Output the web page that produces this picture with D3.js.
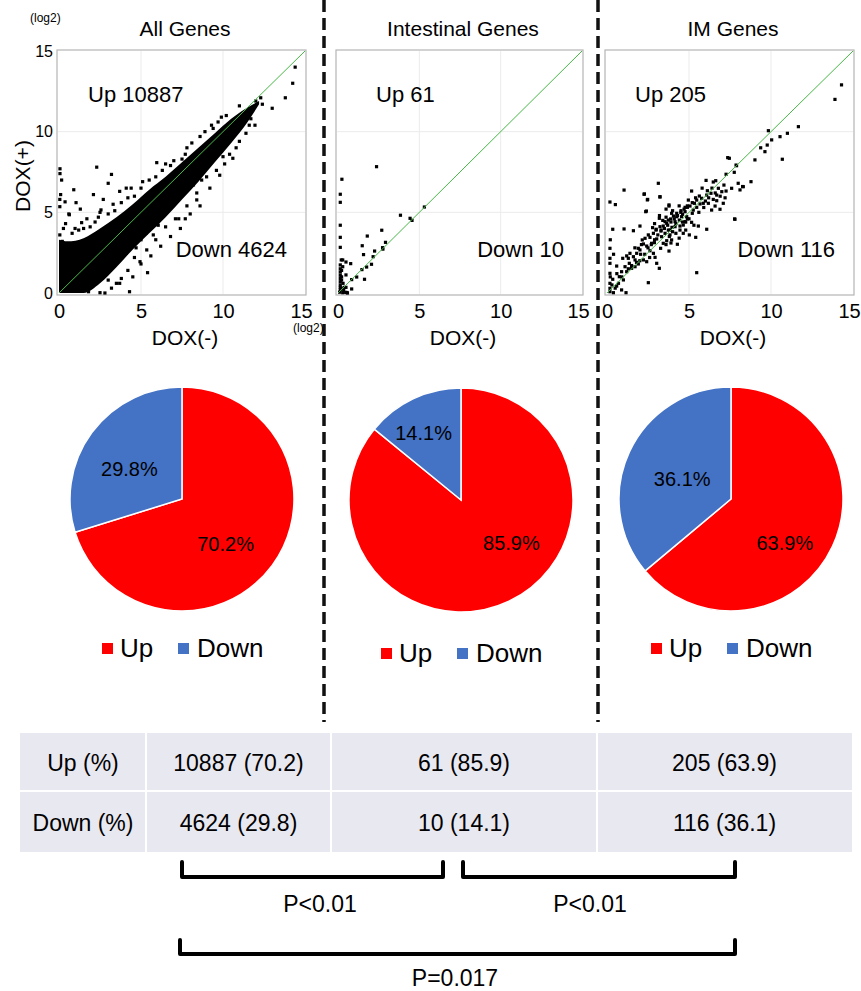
<!DOCTYPE html>
<html>
<head>
<meta charset="utf-8">
<script src="https://cdn.jsdelivr.net/npm/d3@7"></script>
<style>
  body { margin: 0; background: #fff; }
  svg { font-family: Arial, "Liberation Sans", sans-serif; }
</style>
</head>
<body>
<div id="chart"></div>
<script>
// ---- data ----
const panelTitles = ["All Genes", "Intestinal Genes", "IM Genes"]
const upCounts = [10887, 61, 205]
const downCounts = [4624, 10, 116]
const upPct = [70.2, 85.9, 63.9]
const downPct = [29.8, 14.1, 36.1]
const axisTicks = [0, 5, 10, 15]
const rowLabels = ["Up (%)", "Down (%)"]
const pLabels = ["P<0.01", "P<0.01", "P=0.017"]

// dense cloud of "All Genes" drawn as an envelope (log2 DOX(-) -> DOX(+))
const bandX     = [0,   0.5, 1.5, 2.5, 3.5, 4.5, 5.5, 6.5, 7.5, 8.5, 9.5, 10.5, 11.5, 12.2]
const bandUpper = [3.3, 3.2, 3.4, 4.0, 4.7, 5.5, 6.4, 7.2, 8.1, 9.0, 9.9,  10.8, 11.5, 11.9]
const bandLower = [0,   0,   0,   0.6, 1.6, 2.7, 3.7, 4.7, 5.8, 6.9, 8.1,  9.3,  10.6, 11.7]

const allPoints = [[0.06,7.7],[0.06,7.4],[0.16,7.0],[2.3,7.8],[3.2,7.35],[3.0,6.8],[0.9,6.4],[3.7,6.3],[4.1,6.5],
  [0.1,6.1],[2.1,6.1],[2.7,5.8],[0.05,5.8],[0.05,5.35],[0.37,5.65],[1.04,5.6],[2.56,5.15],[0.63,4.85],[1.38,4.36],
  [1.9,4.1],[0.98,4.0],[0.27,4.0],[0.05,3.6],[0.2,3.2],[5.96,8.08],[7.3,4.6],[7.7,4.6],[6.05,4.2],[5.75,3.6],
  [5.35,2.67],[5.4,1.26],[4.5,1.0],[3.7,0.6],[4.3,0.08],[2.5,0.02],[1.8,0.08],[8.4,5.77],[4.94,1.94],[4.1,2.46],
  [6.0,4.6],[14.4,14.0],[14.25,13.0],[13.8,12.1],[13.0,11.45],[12.4,11.7],[12.0,11.9],[11.95,10.4],[11.6,10.4],
  [9.7,10.6],[9.4,10.2],[10.6,8.35],[10.0,8.45],[9.6,7.6],[8.7,7.0],[8.2,6.7],[5.1,6.9],[4.4,6.5],[6.5,8.0],
  [7.7,8.6],[7.5,8.3],[3.5,0.6],[4.7,2.8],[5.0,3.3],[5.3,3.7],[1.3,5.2],[0.6,4.9],[3.4,5.1],[2.5,5.0],
  [1.5,4.0],[2.2,4.4],[3.0,4.9],[3.8,5.6],[4.6,6.0],[5.5,7.0],[6.3,7.6],[7.0,8.2],[7.8,9.0],[8.6,9.7],[9.3,10.4],
  [10.2,11.0],[11.0,11.6],[2.8,0.0],[3.2,0.3],[3.8,0.9],[4.2,1.4],[5.0,1.8],[5.6,2.3],[6.2,2.9],[6.8,3.5],[7.4,4.0],
  [8.0,4.9],[8.6,5.4],[9.2,6.5],[9.8,7.3],[10.4,8.6],[11.0,9.4],[11.4,9.9],
  [0.8,3.7],[1.2,3.9],[0.4,4.3],[1.7,4.6],[2.4,4.7],[3.3,5.5],[4.2,5.9],[5.0,6.5],[5.9,7.2],[6.8,7.9],[8.1,9.3],
  [8.9,10.0],[9.9,10.9],[3.0,0.8],[4.6,2.2],[5.9,3.3],[6.5,4.1],[7.1,4.6],[7.8,5.4],[8.4,6.2],[9.0,7.2],[10.1,8.0],
  [10.8,9.0],[11.7,10.8],[12.3,12.1]]

const intestinalPoints = [[2.37,7.83],[0.24,7.05],[0.14,6.12],[0.14,5.62],[5.31,5.33],[3.84,4.82],[4.43,4.63],
  [4.55,4.5],[0.14,4.2],[2.69,3.89],[1.8,3.53],[0.14,3.45],[2.92,3.14],[1.49,2.93],[0.14,2.83],[2.74,2.81],
  [2.76,2.72],[2.25,2.6],[1.57,2.38],[2.16,2.25],[0.2,2.05],[0.49,1.92],[0.78,1.82],[2.06,1.78],[1.76,1.61],
  [1.47,1.45],[1.15,0.99],[1.63,0.85],[0.84,0.83],[0.14,1.74],[0.14,1.5],[0.14,1.3],[0.14,1.1],[0.14,0.9],
  [0.14,0.7],[0.14,0.5],[0.14,0.35],[0.14,0.2],[0.29,1.63],[0.31,0.6],[0.84,0.25],[0.47,0.04],[0.55,0.03],
  [0.39,0.35],[0.2,0.3],[0.29,2.05],[0.49,1.12],[0.49,0.35],[0.29,0.02],[0.58,0.0],[0.22,1.4],[0.22,1.0],
  [0.22,0.8],[0.1,0.05],[0.35,0.15]]

const imPoints = [[7.36,8.39],[7.46,8.35],[7.87,7.93],[7.26,7.36],[6.04,6.98],[6.48,6.88],[6.63,6.96],[3.13,6.8],
  [8.0,6.8],[8.27,6.6],[7.6,6.49],[1.04,6.38],[5.16,6.32],[7.26,6.32],[6.34,6.18],[6.08,6.07],[2.28,6.14],[6.69,6.07],
  [5.63,6.01],[3.23,5.95],[2.48,5.8],[6.48,5.8],[4.96,5.76],[0.18,5.64],[0.51,5.48],[6.18,5.56],[5.87,5.56],
  [5.33,5.56],[5.06,5.39],[3.78,5.39],[4.9,5.31],[5.47,5.31],[6.59,5.39],[6.89,5.19],[6.38,5.14],[2.4,5.08],
  [4.51,5.1],[4.76,5.04],[4.25,4.94],[5.2,4.94],[4.05,4.77],[4.55,4.73],[3.19,4.63],[3.88,4.59],[4.9,4.59],
  [4.41,4.52],[7.78,4.59],[4.15,4.42],[3.64,4.32],[5.16,4.38],[4.65,4.21],[3.43,4.15],[3.96,4.07],[5.57,4.15],
  [0.35,3.95],[1.04,3.97],[1.61,3.86],[2.01,4.15],[2.78,4.05],[3.29,3.84],[4.45,3.9],[4.2,3.7],[6.08,3.95],
  [5.02,3.6],[3.84,3.6],[3.33,3.49],[3.03,3.35],[2.62,3.45],[2.15,3.29],[5.41,3.45],[3.64,3.24],[4.29,3.02],
  [2.89,3.12],[2.42,2.91],[1.91,2.77],[3.27,2.77],[0.18,2.77],[1.4,2.46],[2.62,2.62],[3.78,2.6],[2.05,2.4],
  [2.93,2.21],[0.96,2.15],[1.71,2.05],[2.42,1.94],[0.18,2.15],[0.18,1.84],[0.59,1.67],[1.36,1.84],[1.91,1.8],
  [3.03,1.84],[3.19,1.53],[1.5,1.53],[1.2,1.32],[0.89,1.32],[5.47,1.26],[0.18,1.22],[2.52,0.64],[0.75,1.01],
  [0.35,0.85],[1.0,0.81],[0.18,0.6],[0.59,0.43],[0.18,0.29],[0.89,0.19],[1.16,0.02],[0.39,0.02],[0.18,0.08],
  [3.94,4.94],[4.25,4.73],[4.61,4.88],[4.76,5.31],[3.74,4.52],[3.54,4.42],[3.23,4.11],[2.99,3.9],[2.83,3.7],
  [2.52,3.6],[2.32,3.39],[3.84,3.9],[4.15,4.11],[4.86,4.73],[5.26,5.14],[5.67,5.52],[5.47,5.76],[5.77,5.87],
  [6.12,6.34],[6.79,6.49],[7.0,6.28],[7.13,6.69],[6.69,5.72],[7.09,5.56],[4.76,4.42],[4.45,4.15],[3.74,3.9],
  [3.54,3.7],[2.72,3.08],[2.22,3.04],[2.01,2.67],[1.61,2.25],[1.81,2.46],[1.3,2.15],[1.1,1.63],[1.71,1.63],
  [2.22,2.05],[2.83,2.46],[3.43,3.08],[3.94,3.29],[4.65,3.7],
  [14.3,12.9],[13.9,12.0],[11.67,10.31],[11.0,9.9],[10.55,9.69],[9.84,10.06],[10.04,9.49],[9.77,9.17],[9.37,9.0],
  [9.63,8.76],[10.69,8.29],[9.02,8.25],[8.78,6.9],[7.9,7.89],[7.8,4.57],[8.31,6.59],[8.11,6.39],[7.76,7.48],
  [2.26,6.12],[2.46,5.77],[3.23,5.97],[3.78,5.46],[2.36,5.04],
  [3.5,4.0],[3.7,4.2],[3.9,4.4],[4.1,4.6],[4.3,4.8],[4.5,5.0],[4.7,5.2],[4.9,5.4],[3.6,4.7],[4.0,5.1],[4.4,5.4],
  [4.8,4.4],[5.0,4.6],[5.2,5.6],[5.4,5.9],[3.3,3.9],[3.1,3.6],[2.9,3.3],[2.7,3.0],[2.5,2.8],[3.0,3.95],[3.4,4.5],
  [4.6,4.4],[4.2,4.3],[3.8,3.5],[4.0,3.8],[5.6,5.0],[5.9,5.3],[6.2,5.9],[6.4,6.5],[6.6,6.2],[6.9,6.0],[7.2,5.9],
  [5.8,6.5],[6.0,5.7],[2.0,2.0],[1.8,1.9],[1.5,1.7],[1.3,1.5],[0.9,1.0],[0.7,0.6],[0.5,0.3],[2.3,2.4],[2.6,2.2],
  [1.2,2.3],[0.4,2.4],[0.2,3.3],[0.2,1.0],[0.3,0.5],[0.6,1.2],[2.1,3.0],[1.7,2.8],[3.6,3.0],[3.9,3.1],[4.4,3.4],
  [4.8,3.9],[5.3,4.2],[2.9,4.3],[3.2,4.8],[3.6,5.2]]

const scatterPoints = [allPoints, intestinalPoints, imPoints]

// ---- layout ----
const width = 861, height = 991
const panelX = [[59, 305], [338, 582], [607, 853]]
const plotY = [293, 51]
const pieCx = [182, 461, 731]
const pieCy = [499, 500, 499]
const pieR = 112
const legendY = [657, 662, 657]
const labelNudge = [[[-6, 8], [-3, 7]], [[24, -13], [-11, -11]], [[-2, 18], [7, 6]]]
const upLabelDx = [29, 38, 28]
const colEdges = [20, 146, 331, 597, 852]
const rowEdges = [733, 791, 852]
const brackets = [
  {x1: 182, x2: 443, y1: 862, y2: 877, tx: 320, ty: 912},
  {x1: 463, x2: 735, y1: 862, y2: 877, tx: 590, ty: 912},
  {x1: 180, x2: 735, y1: 940, y2: 954, tx: 455, ty: 986}
]
const red = "#ff0000", blue = "#4472c4"

const svg = d3.select("#chart").append("svg")
  .attr("width", width)
  .attr("height", height)

// dashed separators
svg.selectAll(".sep")
  .data([324, 598])
  .enter().append("line")
    .attr("x1", d => d).attr("x2", d => d)
    .attr("y1", 0).attr("y2", 722)
    .attr("stroke", "#111")
    .attr("stroke-width", 3.5)
    .attr("stroke-dasharray", "12,6")

panelTitles.forEach((title, i) => {
  const x = d3.scaleLinear().domain([0, 15]).range(panelX[i])
  const y = d3.scaleLinear().domain([0, 15]).range(plotY)
  const g = svg.append("g")

  // frame + grid
  g.append("rect")
    .attr("x", x(0) - 2).attr("y", y(15) - 1)
    .attr("width", x(15) - x(0) + 3).attr("height", y(0) - y(15) + 3)
    .attr("fill", "#fff").attr("stroke", "#b5b5b5").attr("stroke-width", 1.2)
  g.selectAll(".gx").data([5, 10]).enter().append("line")
    .attr("x1", d => x(d)).attr("x2", d => x(d))
    .attr("y1", y(15)).attr("y2", y(0) + 1)
    .attr("stroke", "#ebebeb")
  g.selectAll(".gy").data([5, 10]).enter().append("line")
    .attr("y1", d => y(d)).attr("y2", d => y(d))
    .attr("x1", x(0) - 1).attr("x2", x(15))
    .attr("stroke", "#ebebeb")

  if (i == 0) {
    const area = d3.area()
      .x((d, k) => x(bandX[k]))
      .y0((d, k) => y(bandLower[k]))
      .y1((d, k) => y(bandUpper[k]))
      .curve(d3.curveMonotoneX)
    g.append("path")
      .datum(bandX)
      .attr("d", area)
      .attr("fill", "#000")
  }

  g.selectAll(".pt")
    .data(scatterPoints[i])
    .enter().append("rect")
      .attr("x", d => x(d[0]) - 1.6)
      .attr("y", d => y(d[1]) - 1.6)
      .attr("width", 3.2).attr("height", 3.2)
      .attr("fill", "#000")

  // identity line
  g.append("line")
    .attr("x1", x(0)).attr("y1", y(0))
    .attr("x2", x(15)).attr("y2", y(15))
    .attr("stroke", "#45b845").attr("stroke-width", 1)

  // axes
  const xa = g.append("g")
    .attr("transform", `translate(0,${y(0) + 2})`)
    .call(d3.axisBottom(x).tickValues(axisTicks).tickSize(0).tickPadding(9))
  xa.select(".domain").remove()
  xa.selectAll("text").attr("font-size", 20).attr("fill", "#000")
    .attr("font-family", "Arial, 'Liberation Sans', sans-serif")
    .attr("dx", d => d == 15 ? -4 : 0)

  if (i == 0) {
    const ya = g.append("g")
      .attr("transform", `translate(${x(0) - 2},0)`)
      .call(d3.axisLeft(y).tickValues(axisTicks).tickSize(0).tickPadding(4))
    ya.select(".domain").remove()
    ya.selectAll("text").attr("font-size", 16).attr("fill", "#000")
      .attr("font-family", "Arial, 'Liberation Sans', sans-serif")
  }

  const cx = (panelX[i][0] + panelX[i][1]) / 2
  g.append("text")
    .attr("x", cx + 3).attr("y", 36)
    .attr("text-anchor", "middle").attr("font-size", 21)
    .text(title)
  g.append("text")
    .attr("x", cx + 3).attr("y", 345)
    .attr("text-anchor", "middle").attr("font-size", 21)
    .text("DOX(-)")
  g.append("text")
    .attr("x", x(0) + upLabelDx[i]).attr("y", 102)
    .attr("font-size", 22)
    .text("Up " + upCounts[i])
  g.append("text")
    .attr("x", x(15) - 18).attr("y", 257)
    .attr("text-anchor", "end").attr("font-size", 22)
    .text("Down " + downCounts[i])

  // pie
  const pieData = [{k: "Up", v: upPct[i], c: red}, {k: "Down", v: downPct[i], c: blue}]
  const arcs = d3.pie().sort(null).value(d => d.v)(pieData)
  const arc = d3.arc().innerRadius(0).outerRadius(pieR)
  const labelArc = d3.arc().innerRadius(pieR * 0.55).outerRadius(pieR * 0.55)
  const pg = svg.append("g").attr("transform", `translate(${pieCx[i]},${pieCy[i]})`)
  pg.selectAll("path")
    .data(arcs)
    .enter().append("path")
      .attr("d", arc)
      .attr("fill", d => d.data.c)
      .attr("stroke", "#fff").attr("stroke-width", 1.5)
  pg.selectAll(".lbl")
    .data(arcs)
    .enter().append("text")
      .attr("x", (d, k) => labelArc.centroid(d)[0] + labelNudge[i][k][0])
      .attr("y", (d, k) => labelArc.centroid(d)[1] + labelNudge[i][k][1])
      .attr("text-anchor", "middle").attr("dominant-baseline", "central")
      .attr("font-size", 20)
      .text(d => d.data.v.toFixed(1) + "%")

  // legend
  const lg = svg.append("g").attr("transform", `translate(${pieCx[i]},${legendY[i]})`)
  const legendPos = [[-80, -62], [-4, 15]]
  pieData.forEach((d, k) => {
    lg.append("rect")
      .attr("x", legendPos[k][0]).attr("y", -14)
      .attr("width", 11).attr("height", 11)
      .attr("fill", d.c)
    lg.append("text")
      .attr("x", legendPos[k][1]).attr("y", 0)
      .attr("font-size", 26)
      .text(d.k)
  })
})

// log2 notes and y label
svg.append("text").attr("x", 30).attr("y", 22).attr("font-size", 12).text("(log2)")
svg.append("text").attr("x", 293).attr("y", 332).attr("font-size", 12).text("(log2)")
svg.append("text")
  .attr("transform", "translate(30,176) rotate(-90)")
  .attr("text-anchor", "middle").attr("font-size", 21)
  .text("DOX(+)")

// table
const tg = svg.append("g")
tg.append("rect")
  .attr("x", colEdges[0]).attr("y", rowEdges[0])
  .attr("width", colEdges[4] - colEdges[0]).attr("height", rowEdges[2] - rowEdges[0])
  .attr("fill", "#e8e8f1")
tg.selectAll(".vl").data(colEdges.slice(1, 4)).enter().append("line")
  .attr("x1", d => d).attr("x2", d => d)
  .attr("y1", rowEdges[0]).attr("y2", rowEdges[2])
  .attr("stroke", "#fff").attr("stroke-width", 2)
tg.append("line")
  .attr("x1", colEdges[0]).attr("x2", colEdges[4])
  .attr("y1", rowEdges[1]).attr("y2", rowEdges[1])
  .attr("stroke", "#fff").attr("stroke-width", 2)

const tableRows = rowLabels.map((lab, r) => {
  const counts = r == 0 ? upCounts : downCounts
  const pcts = r == 0 ? upPct : downPct
  return [lab].concat(counts.map((c, k) => `${c} (${pcts[k].toFixed(1)})`))
})
tableRows.forEach((row, r) => {
  row.forEach((cell, c) => {
    tg.append("text")
      .attr("x", (colEdges[c] + colEdges[c + 1]) / 2)
      .attr("y", (rowEdges[r] + rowEdges[r + 1]) / 2 + 1)
      .attr("text-anchor", "middle").attr("dominant-baseline", "central")
      .attr("font-size", 23)
      .text(cell)
  })
})

// significance brackets
brackets.forEach((b, k) => {
  svg.append("path")
    .attr("d", `M${b.x1},${b.y1}V${b.y2}H${b.x2}V${b.y1}`)
    .attr("fill", "none").attr("stroke", "#000")
    .attr("stroke-width", 4).attr("stroke-linejoin", "round").attr("stroke-linecap", "round")
  svg.append("text")
    .attr("x", b.tx).attr("y", b.ty)
    .attr("text-anchor", "middle").attr("font-size", 23)
    .text(pLabels[k])
})
</script>
</body>
</html>
